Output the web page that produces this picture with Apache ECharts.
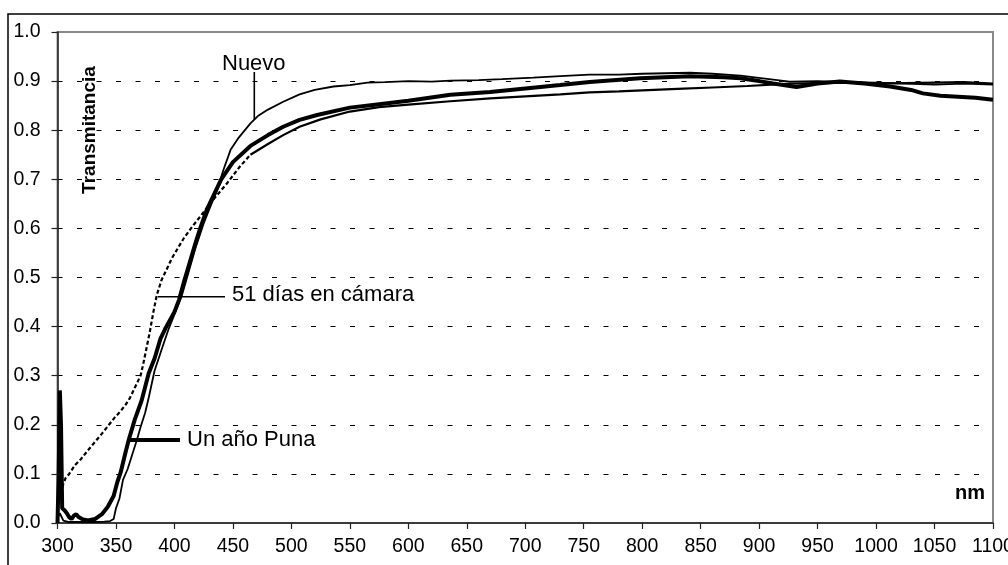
<!DOCTYPE html>
<html>
<head>
<meta charset="utf-8">
<script src="https://cdn.jsdelivr.net/npm/echarts@6/dist/echarts.min.js"></script>
<style>html,body{margin:0;padding:0;background:#fff}#c{width:1008px;height:565px}</style>
</head>
<body>
<div id="c"></div>
<script>
// ---- data ----
const xTicks = [300,350,400,450,500,550,600,650,700,750,800,850,900,950,1000,1050,1100];
const yTicks = [0,0.1,0.2,0.3,0.4,0.5,0.6,0.7,0.8,0.9,1.0];

const nmNuevo = [300,302,305,310,320,330,340,345,348,350,353,356,360,364,368,371,375,378,383,390,395,400,406,412,418,425,430,436,442,448,455,465,472,480,493,507,520,536,550,565,580,600,620,636,660,680,707,730,755,780,800,820,841,860,884,905,926,950,975,1000,1025,1050,1075,1100];
const tNuevo  = [0.01,0.02,0.005,0.002,0.002,0.002,0.003,0.004,0.008,0.03,0.05,0.088,0.11,0.14,0.17,0.195,0.225,0.255,0.31,0.36,0.395,0.425,0.461,0.51,0.56,0.61,0.64,0.675,0.72,0.76,0.785,0.814,0.83,0.842,0.858,0.873,0.882,0.889,0.892,0.897,0.898,0.9,0.899,0.901,0.902,0.904,0.907,0.91,0.913,0.913,0.915,0.916,0.917,0.915,0.911,0.905,0.899,0.9,0.898,0.897,0.895,0.893,0.895,0.893];

const nmPuna = [300,301,302,303,304,306,308,310,312,314,316,318,321,326,332,338,343,348,351,354,358,361,366,372,378,383,388,392,400,404,408,413,418,422,428,434,440,450,465,480,493,507,522,550,575,600,636,670,700,730,755,798,841,870,884,900,912,932,950,969,990,1012,1030,1040,1055,1070,1085,1100];
const tPuna  = [0.0,0.1,0.27,0.2,0.03,0.026,0.02,0.012,0.008,0.015,0.018,0.012,0.008,0.005,0.008,0.018,0.033,0.055,0.082,0.103,0.142,0.17,0.21,0.25,0.305,0.335,0.375,0.395,0.43,0.455,0.49,0.53,0.57,0.6,0.64,0.67,0.7,0.735,0.768,0.79,0.807,0.821,0.831,0.846,0.853,0.86,0.872,0.878,0.885,0.892,0.898,0.906,0.91,0.908,0.906,0.9,0.895,0.888,0.895,0.899,0.895,0.889,0.882,0.875,0.87,0.868,0.866,0.862];

const nmCamara = [303,305,307,310,315,320,326,332,338,344,349,354,358,362,366,369,371,373,376,379,382,385,389,393,398,403,408,415,422,433,445,456,465,480,493,507,525,550,575,600,636,670,700,730,755,780,800,830,860,890,926,950,975,1000,1025,1050,1075,1100];
const tCamara  = [0.06,0.08,0.092,0.1,0.118,0.13,0.148,0.165,0.182,0.2,0.215,0.228,0.24,0.255,0.275,0.29,0.3,0.32,0.355,0.39,0.43,0.465,0.495,0.515,0.54,0.56,0.58,0.603,0.624,0.658,0.692,0.726,0.75,0.772,0.79,0.807,0.822,0.838,0.847,0.852,0.859,0.865,0.869,0.873,0.877,0.879,0.881,0.884,0.887,0.89,0.895,0.896,0.897,0.895,0.896,0.897,0.898,0.895];
const camaraDashEnd = 465; // dashed up to here, solid afterwards

const labelNuevo = 'Nuevo';
const labelCamara = '51 días en cámara';
const labelPuna = 'Un año Puna';
const yName = 'Transmitancia';
const xName = 'nm';

// ---- build ----
const zip = (xs, ys) => xs.map((x, i) => [x, ys[i]]);
const camaraAll = zip(nmCamara, tCamara);
const camaraDashed = camaraAll.filter(p => p[0] <= camaraDashEnd);
const camaraSolid = camaraAll.filter(p => p[0] >= camaraDashEnd);

const FONT = 'Liberation Sans, Arial, sans-serif';
const chart = echarts.init(document.getElementById('c'), null, {renderer: 'canvas'});
chart.setOption({
  animation: false,
  backgroundColor: '#fff',
  grid: {left: 57.5, right: 15, top: 32, bottom: 42, outerBoundsMode: 'none', containLabel: false,
         show: true, borderColor: '#8a8a8a', borderWidth: 2, backgroundColor: 'transparent'},
  xAxis: {
    type: 'value', min: xTicks[0], max: xTicks[xTicks.length-1], interval: 50,
    axisLine: {show: true, onZero: false, lineStyle: {color: '#222', width: 1.5}},
    axisTick: {show: true, length: 6, lineStyle: {color: '#222', width: 1.2}},
    axisLabel: {color: '#000', fontSize: 19.5, fontFamily: FONT, margin: 14, formatter: v => String(v), hideOverlap: false},
    splitLine: {show: false}
  },
  yAxis: {
    type: 'value', min: yTicks[0], max: yTicks[yTicks.length-1], interval: 0.1,
    axisLine: {show: true, onZero: false, lineStyle: {color: '#222', width: 1.5}},
    axisTick: {show: true, length: 6, lineStyle: {color: '#222', width: 1.2}},
    axisLabel: {color: '#000', fontSize: 19.5, fontFamily: FONT, margin: 17, formatter: v => v.toFixed(1)},
    splitLine: {show: true, showMinLine: false, showMaxLine: false, lineStyle: {color: '#000', width: 1, type: [5, 14.5]}}
  },
  series: [
    {name: labelCamara, type: 'line', data: camaraDashed, showSymbol: false, symbol: 'none',
     lineStyle: {color: '#000', width: 2.2, type: [4, 2.5]}, z: 3},
    {name: labelCamara + ' ', type: 'line', data: camaraSolid, showSymbol: false, symbol: 'none',
     lineStyle: {color: '#000', width: 2.2}, z: 3},
    {name: labelNuevo, type: 'line', data: zip(nmNuevo, tNuevo), showSymbol: false, symbol: 'none',
     lineStyle: {color: '#000', width: 1.8}, z: 4},
    {name: labelPuna, type: 'line', data: zip(nmPuna, tPuna), showSymbol: false, symbol: 'none',
     lineStyle: {color: '#000', width: 4}, z: 5}
  ],
  graphic: [
    {type: 'rect', shape: {x: 8, y: 14, width: 1020, height: 580}, style: {fill: 'none', stroke: '#000', lineWidth: 1.5}, silent: true, z: -1},
    {type: 'text', x: 90, y: 130, rotation: Math.PI/2, style: {text: yName, font: 'bold 19px ' + FONT, fill: '#000', align: 'center', verticalAlign: 'middle'}},
    {type: 'text', x: 985, y: 493, style: {text: xName, font: 'bold 20px ' + FONT, fill: '#000', align: 'right', verticalAlign: 'middle'}},
    {type: 'text', x: 222, y: 64, style: {text: labelNuevo, font: '22px ' + FONT, fill: '#000', align: 'left', verticalAlign: 'middle'}},
    {type: 'line', shape: {x1: 254.3, y1: 72, x2: 254.3, y2: 120}, style: {stroke: '#000', lineWidth: 1.6}},
    {type: 'text', x: 232, y: 295, style: {text: labelCamara, font: '22px ' + FONT, fill: '#000', align: 'left', verticalAlign: 'middle'}},
    {type: 'line', shape: {x1: 158, y1: 296.7, x2: 225, y2: 296.7}, style: {stroke: '#000', lineWidth: 1.6}},
    {type: 'text', x: 187, y: 440, style: {text: labelPuna, font: '22px ' + FONT, fill: '#000', align: 'left', verticalAlign: 'middle'}},
    {type: 'line', shape: {x1: 130, y1: 440, x2: 180, y2: 440}, style: {stroke: '#000', lineWidth: 4}}
  ]
});
</script>
</body>
</html>
